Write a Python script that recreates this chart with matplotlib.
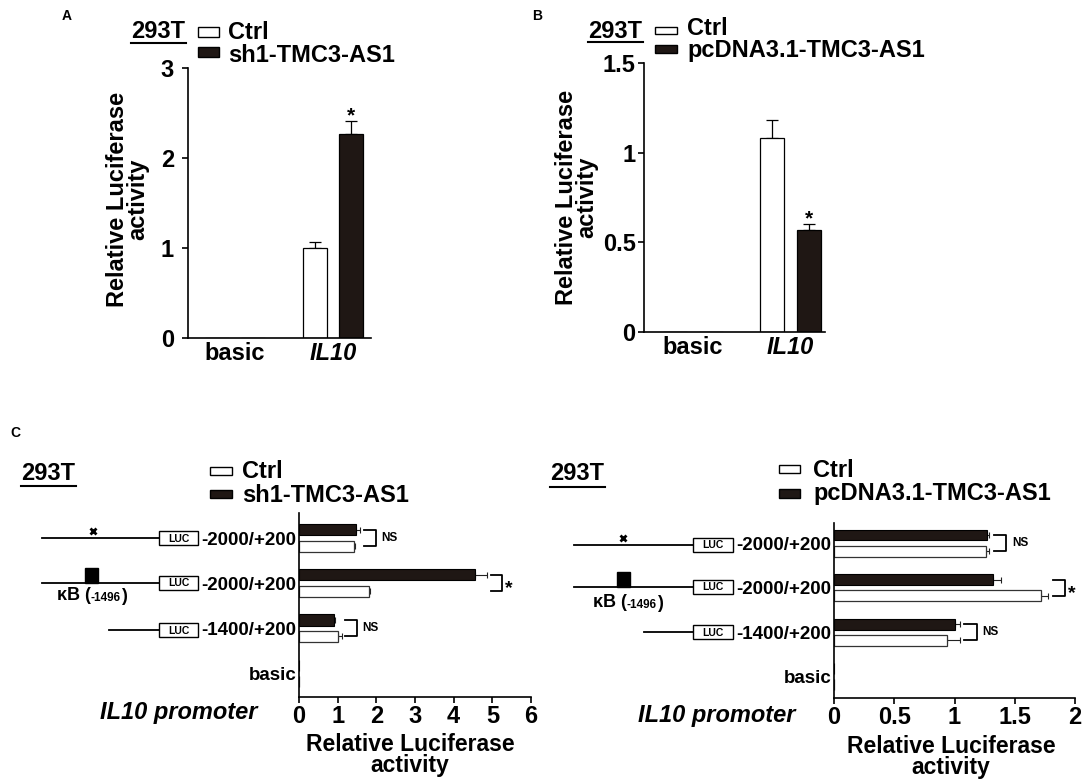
import matplotlib
matplotlib.use("Agg")
import matplotlib.pyplot as plt
import numpy as np
from matplotlib.patches import Rectangle

plt.rcParams['font.family'] = ['Liberation Sans', 'DejaVu Sans']
plt.rcParams['font.weight'] = 'bold'
plt.rcParams['axes.linewidth'] = 1.2

W, H = 1084, 781
BLACK = '#1f1714'

# ---- data ----
ab_groups = ['basic', 'IL10']
a_ctrl = [0.0, 1.00]
a_ctrl_err = [0.0, 0.07]
a_sh = [0.0, 2.27]
a_sh_err = [0.0, 0.14]

b_ctrl = [0.0, 1.08]
b_ctrl_err = [0.0, 0.10]
b_pc = [0.0, 0.57]
b_pc_err = [0.0, 0.03]

c_constructs = ['-2000/+200', '-2000/+200', '-1400/+200', 'basic']
cl_ctrl = [1.43, 1.82, 1.00, 0.0]
cl_ctrl_err = [0.02, 0.02, 0.10, 0.0]
cl_sh = [1.48, 4.54, 0.91, 0.0]
cl_sh_err = [0.11, 0.32, 0.02, 0.0]
cl_sig = ['NS', '*', 'NS']

cr_ctrl = [1.26, 1.715, 0.935, 0.0]
cr_ctrl_err = [0.03, 0.065, 0.11, 0.0]
cr_pc = [1.27, 1.32, 1.00, 0.0]
cr_pc_err = [0.02, 0.07, 0.045, 0.0]
cr_sig = ['NS', '*', 'NS']

fig = plt.figure(figsize=(W / 100, H / 100), dpi=100)


def px_axes(l, t, r, b):
    # axes placed by pixel box (left, top, right, bottom)
    return fig.add_axes([l / W, 1 - b / H, (r - l) / W, (b - t) / H])


def vbar_panel(box, xlim, ymax, yticks, ylabels, ctrl, ctrl_err, trt, trt_err, ypad):
    ax = px_axes(*box)
    x = np.arange(len(ab_groups))
    off, w = 0.187, 0.245
    ctrl, ctrl_err = np.array(ctrl), np.array(ctrl_err)
    trt, trt_err = np.array(trt), np.array(trt_err)
    ax.bar(x - off, ctrl, w, color='white', edgecolor='black', lw=0.9, zorder=2)
    ax.bar(x + off, trt, w, color=BLACK, edgecolor='black', lw=0.9, zorder=2)
    m = ctrl > 0
    ax.errorbar(x[m] - off, ctrl[m], yerr=[np.zeros(m.sum()), ctrl_err[m]], fmt='none',
                ecolor='black', elinewidth=0.9, capsize=4, capthick=0.9, zorder=1)
    m = trt > 0
    ax.errorbar(x[m] + off, trt[m], yerr=[np.zeros(m.sum()), trt_err[m]], fmt='none',
                ecolor='black', elinewidth=0.9, capsize=4, capthick=0.9, zorder=1)
    ax.annotate('*', (x[1] + off, trt[1] + trt_err[1]), xytext=(0, -3),
                textcoords='offset points', ha='center', va='bottom', fontsize=15)
    ax.set_xlim(xlim)
    ax.set_ylim(0, ymax)
    ax.set_yticks(yticks)
    ax.set_yticklabels(ylabels, fontsize=17)
    ax.set_xticks(x)
    ax.set_xticklabels(ab_groups, fontsize=17)
    ax.get_xticklabels()[1].set_style('italic')
    ax.tick_params(axis='y', direction='out', length=4, width=1.2, pad=ypad)
    ax.tick_params(axis='x', length=0, pad=3)
    for s in ['top', 'right']:
        ax.spines[s].set_visible(False)
    return ax


def hbar_panel(box, ylim, xmax, xticks, xlabels, ctrl, ctrl_err, trt, trt_err, sig, gap, bw):
    ax = px_axes(*box)
    y = np.arange(len(c_constructs))
    off, h = 0.18, 0.245
    ctrl, ctrl_err = np.array(ctrl), np.array(ctrl_err)
    trt, trt_err = np.array(trt), np.array(trt_err)
    ax.barh(y - off, trt, h, color=BLACK, edgecolor='black', lw=0.8, zorder=2)
    ax.barh(y + off, ctrl, h, color='white', edgecolor='#333333', lw=0.9, zorder=2)
    m = trt > 0
    ax.errorbar(trt[m], y[m] - off, xerr=[np.zeros(m.sum()), trt_err[m]], fmt='none',
                ecolor='#222222', elinewidth=0.8, capsize=2.2, capthick=0.8, zorder=1)
    m = ctrl > 0
    ax.errorbar(ctrl[m], y[m] + off, xerr=[np.zeros(m.sum()), ctrl_err[m]], fmt='none',
                ecolor='#222222', elinewidth=0.8, capsize=2.2, capthick=0.8, zorder=1)
    # significance brackets
    for i, s in enumerate(sig):
        xl = max(trt[i] + trt_err[i], ctrl[i] + ctrl_err[i]) + gap
        ax.plot([xl, xl + bw, xl + bw, xl], [i - off, i - off, i + off, i + off],
                color='black', lw=1.3, clip_on=False)
        if s == '*':
            ax.annotate(s, (xl + bw, i), xytext=(2, -4), textcoords='offset points',
                        ha='left', va='center', fontsize=14)
        else:
            ax.annotate(s, (xl + bw, i), xytext=(4, 0), textcoords='offset points',
                        ha='left', va='center', fontsize=8.5)
    ax.set_ylim(ylim)
    ax.set_xlim(0, xmax)
    ax.set_yticks(y)
    ax.set_yticklabels(c_constructs, fontsize=13.5)
    ax.set_xticks(xticks)
    ax.set_xticklabels(xlabels, fontsize=17)
    ax.tick_params(axis='y', length=0, pad=2)
    ax.tick_params(axis='x', direction='out', length=4, width=1.2, pad=2)
    for s in ['top', 'right']:
        ax.spines[s].set_visible(False)
    return ax


# panel A / B
vbar_panel((188, 68, 371, 338), (-0.48, 1.388), 3, [0, 1, 2, 3], ['0', '1', '2', '3'],
           a_ctrl, a_ctrl_err, a_sh, a_sh_err, ypad=6)
vbar_panel((644, 63, 825, 332), (-0.503, 1.354), 1.5, [0, 0.5, 1, 1.5], ['0', '0.5', '1', '1.5'],
           b_ctrl, b_ctrl_err, b_pc, b_pc_err, ypad=2)

# panel C
hbar_panel((299, 513, 531, 697), (3.53, -0.556), 6, range(7), [str(v) for v in range(7)],
           cl_ctrl, cl_ctrl_err, cl_sh, cl_sh_err, cl_sig, gap=0.1, bw=0.3)
hbar_panel((834, 523, 1075, 698), (3.48, -0.45), 2, [0, 0.5, 1, 1.5, 2],
           ['0', '0.5', '1', '1.5', '2'],
           cr_ctrl, cr_ctrl_err, cr_pc, cr_pc_err, cr_sig, gap=0.035, bw=0.105)

# overlay in pixel coordinates for legends, labels and promoter drawings
ov = fig.add_axes([0, 0, 1, 1])
ov.set_xlim(0, W)
ov.set_ylim(H, 0)
ov.axis('off')
ov.patch.set_visible(False)

# panel letters
ov.text(62, 20, 'A', fontsize=10, ha='left', va='baseline')
ov.text(532, 20, 'B', fontsize=10, ha='left', va='baseline')
ov.text(10, 437, 'C', fontsize=10, ha='left', va='baseline')


def legend_block(x293, base293, uline, px, pw, ctrl_box, trt_box, tx, base_ctrl, base_trt, trt_name):
    ov.text(x293, base293, '293T', fontsize=17, ha='left', va='baseline')
    ov.plot([x293, x293 + 55], [uline, uline], color='black', lw=1.5)
    ov.add_patch(Rectangle((px, ctrl_box[0]), pw, ctrl_box[1] - ctrl_box[0],
                           facecolor='white', edgecolor='black', lw=1))
    ov.add_patch(Rectangle((px, trt_box[0]), pw, trt_box[1] - trt_box[0],
                           facecolor=BLACK, edgecolor='black', lw=1))
    ov.text(tx, base_ctrl, 'Ctrl', fontsize=17, ha='left', va='baseline')
    ov.text(tx, base_trt, trt_name, fontsize=17, ha='left', va='baseline')


legend_block(131, 38, 43, 198, 21, (27, 37), (47, 57), 228, 39, 62, 'sh1-TMC3-AS1')
legend_block(588, 38, 42, 655, 22, (27, 34), (45, 53), 687, 35, 57, 'pcDNA3.1-TMC3-AS1')
legend_block(21, 480, 486, 210, 22, (467, 475), (490, 498), 242, 478, 502, 'sh1-TMC3-AS1')
legend_block(550, 480, 487, 779, 21, (465, 473), (489, 498), 813, 477, 500, 'pcDNA3.1-TMC3-AS1')

# y labels of A and B
ov.text(128, 199, 'Relative Luciferase\nactivity', fontsize=17, rotation=90,
        ha='center', va='center', linespacing=0.85)
ov.text(577, 197, 'Relative Luciferase\nactivity', fontsize=17, rotation=90,
        ha='center', va='center', linespacing=0.85)

# x labels of C
ov.text(410, 755, 'Relative Luciferase\nactivity', fontsize=16.5, ha='center', va='center',
        linespacing=0.85)
ov.text(951, 757, 'Relative Luciferase\nactivity', fontsize=16.5, ha='center', va='center',
        linespacing=0.85)
ov.text(100, 719, 'IL10 promoter', fontsize=17, style='italic', ha='left', va='baseline')
ov.text(638, 722, 'IL10 promoter', fontsize=17, style='italic', ha='left', va='baseline')


def promoter(box_x, box_w, rows, starts, cross_x, kb_x, kb_text_x, kb_text_y):
    for y, xs in zip(rows, starts):
        ov.plot([xs, box_x], [y, y], color='black', lw=1.3)
        ov.add_patch(Rectangle((box_x, y - 7), box_w, 14, facecolor='white',
                               edgecolor='black', lw=1))
        ov.text(box_x + box_w / 2, y + 0.5, 'LUC', fontsize=7.5, ha='center', va='center')
    ov.plot([cross_x], [rows[0] - 7], marker='x', ms=5, mew=2, color='black')
    ov.add_patch(Rectangle((kb_x, rows[1] - 15), 13, 15, facecolor='black', edgecolor='black'))
    t1 = ov.text(kb_text_x, kb_text_y, 'κB (', fontsize=13, ha='left', va='baseline')
    t2 = ov.annotate('-1496', xy=(1, 0), xycoords=t1, fontsize=8.5, ha='left', va='bottom')
    ov.annotate(')', xy=(1, 0), xycoords=t2, fontsize=13, ha='left', va='bottom',
                xytext=(0, -0.5), textcoords='offset points')


promoter(159, 39, [538, 583, 630], [42, 42, 109], 93, 85, 57, 600)
promoter(693, 40, [545, 587, 632], [574, 574, 644], 623, 617, 593, 607)

fig.savefig('out.png', dpi=100)
